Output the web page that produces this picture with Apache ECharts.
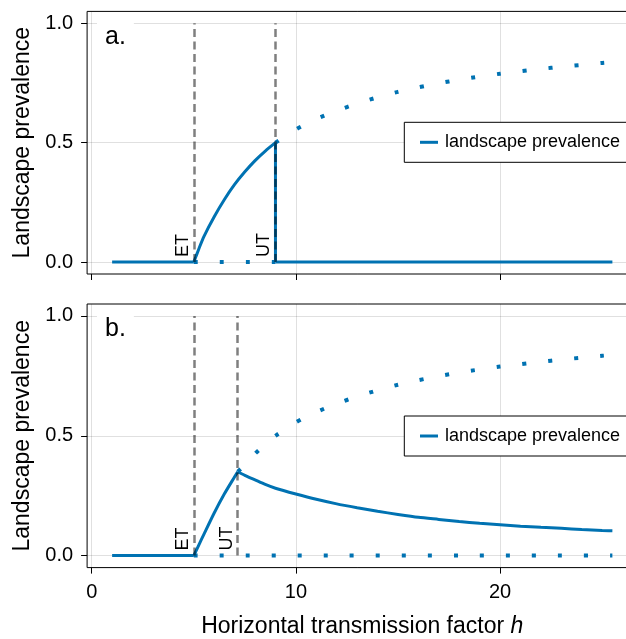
<!DOCTYPE html>
<html><head><meta charset="utf-8">
<script src="https://cdn.jsdelivr.net/npm/echarts@6/dist/echarts.min.js"></script>
<style>html,body{margin:0;padding:0;background:#fff}#c{width:626px;height:639px}</style>
</head><body><div id="c"></div>
<script>
// ---- data ----
const hStart = 1, hEnd = 25.5;
const ET_a = 5, UT_a = 9;
const ET_b = 5, UT_b = 7.15;
const xTicks = [0, 10, 20];
const yTicks = [0, 0.5, 1];
const panelLabels = ['a.', 'b.'];
const legendName = 'landscape prevalence';

// panel a: stable branch between ET and UT
const riseA_h = [5.0, 5.1, 5.25, 5.5, 6.0, 6.5, 7.0, 7.5, 8.0, 8.5, 9.0];
const riseA_y = [0, 0.022, 0.056, 0.108, 0.19, 0.262, 0.325, 0.378, 0.425, 0.465, 0.5];

// panel b: stable branch rising from ET to UT
const riseB_h = [5.0, 5.1, 5.25, 5.5, 6.0, 6.5, 7.0, 7.15];
const riseB_y = [0, 0.018, 0.045, 0.09, 0.178, 0.258, 0.329, 0.35];

// panel b: stable branch decreasing after UT
const declB_h = [7.15, 7.5, 8, 8.5, 9, 10, 11, 12, 13, 14, 15, 16, 17, 18, 19, 20, 21, 22, 23, 24, 25, 25.5];
const declB_y = [0.35, 0.335, 0.316, 0.297, 0.281, 0.257, 0.235, 0.216, 0.2, 0.185, 0.172, 0.16, 0.151, 0.142, 0.135, 0.129, 0.123, 0.118, 0.114, 0.109, 0.105, 0.104];

// unstable upper branch (both panels)
const upper_h = [7.15, 7.5, 8, 8.5, 9, 10, 11, 12, 13, 14, 15, 16, 17, 18, 19, 20, 21, 22, 23, 24, 25, 25.5];
const upper_y = [0.35, 0.378, 0.425, 0.465, 0.5, 0.556, 0.599, 0.634, 0.664, 0.69, 0.713, 0.732, 0.749, 0.764, 0.777, 0.789, 0.799, 0.809, 0.818, 0.826, 0.834, 0.837];

// ---- build ----
const BLUE = '#0072B2';
const FONT = '"Liberation Sans", Arial, Helvetica, sans-serif';
const zip = (hs, ys) => hs.map((h, i) => [h, ys[i]]);
const seg = (a, b) => [a, b];

const X_MIN = -0.225, X_MAX = 26.725, Y_MIN = -0.05, Y_MAX = 1.05;
const grids = [
  {left: 87.1, top: 11.4, width: 550.3, height: 262.6},
  {left: 87.1, top: 304, width: 550.3, height: 263.6}
];

function xAxis(i, showLabels) {
  return {
    type: 'value', gridIndex: i, min: X_MIN, max: X_MAX,
    axisLine: {show: false, onZero: false},
    axisTick: {show: true, inside: false, length: 6, lineStyle: {color: '#000', width: 1}, customValues: xTicks},
    axisLabel: {show: showLabels, customValues: xTicks, fontSize: 20, color: '#000', fontFamily: FONT, margin: 15},
    splitLine: {show: true, lineStyle: {color: 'rgba(0,0,0,0.12)', width: 1}},
    name: showLabels ? '{n|Horizontal transmission factor }{i|h}' : '',
    nameLocation: 'middle', nameGap: 48,
    nameTextStyle: {color: '#000', fontFamily: FONT, fontSize: 23,
      rich: {n: {fontSize: 23, fontFamily: FONT, color: '#000'}, i: {fontSize: 23, fontFamily: FONT, fontStyle: 'italic', color: '#000'}}}
  };
}
function yAxis(i) {
  return {
    type: 'value', gridIndex: i, min: Y_MIN, max: Y_MAX,
    axisLine: {show: false, onZero: false},
    axisTick: {show: true, inside: false, length: 6, lineStyle: {color: '#000', width: 1}, customValues: yTicks},
    axisLabel: {customValues: yTicks, formatter: v => v.toFixed(1), fontSize: 20, color: '#000', fontFamily: FONT, margin: 14},
    splitLine: {show: true, lineStyle: {color: 'rgba(0,0,0,0.12)', width: 1}},
    name: 'Landscape prevalence', nameLocation: 'middle', nameGap: 52,
    nameTextStyle: {color: '#000', fontFamily: FONT, fontSize: 23}
  };
}

function solid(i, data) {
  return {type: 'line', name: legendName, xAxisIndex: i, yAxisIndex: i, data: data,
    showSymbol: false, symbol: 'none', smooth: 0.25, z: 3,
    lineStyle: {color: BLUE, width: 3}, itemStyle: {color: BLUE}};
}
function dotted(i, data, nm) {
  return {type: 'line', name: nm, xAxisIndex: i, yAxisIndex: i, data: data,
    showSymbol: false, symbol: 'none', smooth: 0.25, z: 3,
    lineStyle: {color: BLUE, width: 4, type: [4, 22], cap: 'butt'}, itemStyle: {color: BLUE}};
}
function thresholds(i, et, ut) {
  const lbl = (t) => ({show: true, formatter: t, position: 'insideStartTop', distance: [5, 2],
    fontSize: 18, color: '#000', fontFamily: FONT});
  return {
    symbol: 'none', silent: true, animation: false,
    lineStyle: {color: 'rgba(0,0,0,0.5)', width: 2.5, type: [8, 4.5]},
    data: [
      [{coord: [et, 0], label: lbl('ET')}, {coord: [et, 1]}],
      [{coord: [ut, 0], label: lbl('UT')}, {coord: [ut, 1]}]
    ]
  };
}

const upperA = zip(upper_h, upper_y).filter(p => p[0] >= UT_a);
const upperB = zip(upper_h, upper_y);

const series = [
  // panel a
  solid(0, seg([hStart, 0], [ET_a, 0])),
  solid(0, zip(riseA_h, riseA_y)),
  solid(0, seg([UT_a, 0], [UT_a, riseA_y[riseA_y.length - 1]])),
  solid(0, seg([UT_a, 0], [hEnd, 0])),
  dotted(0, upperA, 'upper a'),
  Object.assign(dotted(0, seg([ET_a, 0], [UT_a, 0]), 'zero a'), {markLine: thresholds(0, ET_a, UT_a)}),
  // panel b
  solid(1, seg([hStart, 0], [ET_b, 0])),
  solid(1, zip(riseB_h, riseB_y)),
  solid(1, zip(declB_h, declB_y)),
  dotted(1, upperB, 'upper b'),
  Object.assign(dotted(1, seg([ET_b, 0], [hEnd, 0]), 'zero b'), {markLine: thresholds(1, ET_b, UT_b)})
];

const legends = [122.3, 416].map(t => ({
  data: [legendName], left: 404.3, top: t, orient: 'horizontal',
  icon: 'rect', itemWidth: 18, itemHeight: 3,
  padding: [11, 16, 11, 15.7], borderColor: '#000', borderWidth: 1, backgroundColor: '#fff',
  textStyle: {fontSize: 18, color: '#000', fontFamily: FONT, padding: [0, 0, 0, 2]},
  selectedMode: false
}));

const graphic = panelLabels.map((t, i) => ({
  type: 'text', z: 10, silent: true,
  style: {text: t, x: 97, y: grids[i].top + 9, font: '25px ' + FONT, fill: '#000',
    backgroundColor: '#fff', padding: [4, 8, 4, 8], verticalAlign: 'top', align: 'left'}
}));

const chart = echarts.init(document.getElementById('c'), null, {renderer: 'canvas'});
chart.setOption({
  animation: false,
  backgroundColor: '#fff',
  grid: grids.map(g => Object.assign({show: true, borderColor: '#000', borderWidth: 1, backgroundColor: 'transparent',
    containLabel: false, outerBoundsMode: 'none'}, g)),
  xAxis: [xAxis(0, false), xAxis(1, true)],
  yAxis: [yAxis(0), yAxis(1)],
  legend: legends,
  graphic: graphic,
  series: series
});
</script></body></html>
